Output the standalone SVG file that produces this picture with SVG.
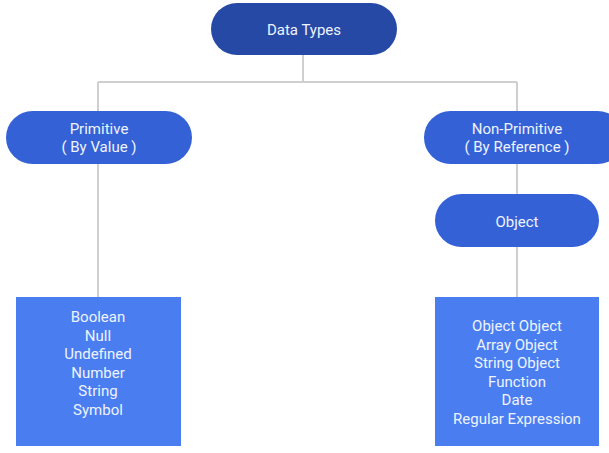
<svg xmlns="http://www.w3.org/2000/svg" width="609" height="453" viewBox="0 0 609 453">
<style>
text{font-family:Roboto,"Liberation Sans",sans-serif;font-size:15px;fill:#eef3ff;text-anchor:middle}
.l{stroke:#cfcfcf;stroke-width:2;fill:none}
.top{fill:#2649a5}
.mid{fill:#3461d5}
.box{fill:#4a7ef0}
</style>
<rect width="609" height="453" fill="#ffffff"/>
<g id="connectors">
<path class="l" d="M303 55V82M98 82H517M98 82V297M517 82V297"/>
</g>
<g id="data-types">
<rect class="top" x="211" y="3" width="186" height="52" rx="26"/>
<text x="304" y="35">Data Types</text>
</g>
<g id="primitive">
<rect class="mid" x="6" y="111" width="186" height="53" rx="26.5"/>
<text x="99" y="134">Primitive</text>
<text x="99" y="152">( By Value )</text>
</g>
<g id="non-primitive">
<rect class="mid" x="424" y="111" width="200" height="53" rx="26.5"/>
<text x="517" y="134">Non-Primitive</text>
<text x="517" y="152">( By Reference )</text>
</g>
<g id="object">
<rect class="mid" x="435" y="194" width="164" height="53" rx="26.5"/>
<text x="517" y="227">Object</text>
</g>
<g id="primitive-list">
<rect class="box" x="16" y="297" width="165" height="149"/>
<text x="98" y="322">Boolean</text>
<text x="98" y="340.5">Null</text>
<text x="98" y="359">Undefined</text>
<text x="98" y="377.5">Number</text>
<text x="98" y="396">String</text>
<text x="98" y="414.5">Symbol</text>
</g>
<g id="object-list">
<rect class="box" x="435" y="297" width="164" height="149"/>
<text x="517" y="331">Object Object</text>
<text x="517" y="349.5">Array Object</text>
<text x="517" y="368">String Object</text>
<text x="517" y="386.5">Function</text>
<text x="517" y="405">Date</text>
<text x="517" y="423.5">Regular Expression</text>
</g>
</svg>
